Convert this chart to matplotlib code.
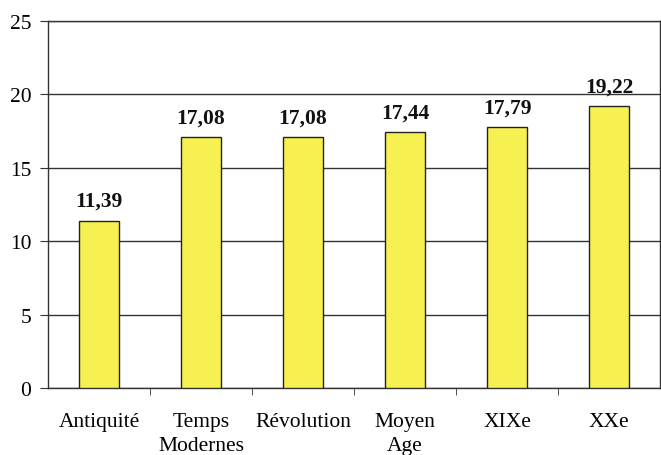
import matplotlib
matplotlib.use("Agg")
import matplotlib.pyplot as plt

categories = ["Antiquité", "Temps\nModernes", "Révolution", "Moyen\nAge", "XIXe", "XXe"]
values = [11.39, 17.08, 17.08, 17.44, 17.79, 19.22]
yticks = [0, 5, 10, 15, 20, 25]

plt.rcParams['font.family'] = ['Liberation Serif', 'DejaVu Serif']

fig = plt.figure(figsize=(6.61, 4.56), dpi=100)
ax = fig.add_axes([48/661, 1-389/456, 612/661, 367/456])

x = list(range(len(categories)))
bars = ax.bar(x, values, width=0.4, color="#f6f050", edgecolor="#222222", linewidth=1.0, zorder=3)
ax.set_xlim(-0.5, len(categories) - 0.5)
ax.set_ylim(0, 25)
ax.set_yticks(yticks)
ax.set_yticklabels([str(t) for t in yticks], fontsize=15.5)
ax.yaxis.grid(True, color="#333333", linewidth=1.0, zorder=0)
ax.set_axisbelow(True)

ax.set_xticks(x)
ax.set_xticklabels(categories, fontsize=15.5, linespacing=1.35)
ax.tick_params(axis='x', length=0, pad=17)
ax.set_xticks([i + 0.5 for i in range(len(categories) - 1)], minor=True)
ax.tick_params(axis='x', which='minor', length=5, direction='out', color="#333333")
ax.tick_params(axis='y', length=6, direction='out', color="#333333", pad=6)

for s in ax.spines.values():
    s.set_color("#333333")
    s.set_linewidth(1.0)

for xi, v in zip(x, values):
    ax.annotate(f"{v:.2f}".replace(".", ","), (xi, v), xytext=(0, 7), textcoords="offset points",
                ha="center", va="bottom", fontsize=15.5, fontweight="bold", color="#111111")

fig.savefig("out.png", dpi=100)
